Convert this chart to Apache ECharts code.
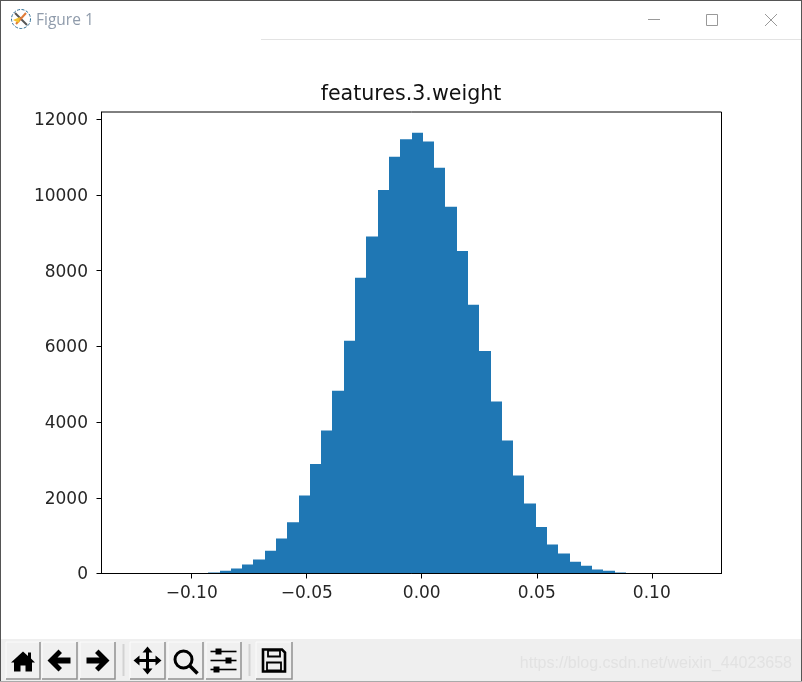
<!DOCTYPE html>
<html><head><meta charset="utf-8">
<style>html,body{margin:0;padding:0;background:#fff}#c{width:802px;height:682px}</style>
<script src="https://cdn.jsdelivr.net/npm/echarts@6/dist/echarts.min.js"></script>
</head><body><div id="c"></div>
<script>
const chartTitle = 'features.3.weight';
const windowTitle = 'Figure 1';
const watermark = 'https://blog.csdn.net/weixin_44023658';
const firstBinEdge = -0.12717;
const binWidth = 0.004909;
const counts = [0,0,0,0,0,0,0,26,70,132,237,369,598,923,1354,2058,2890,3780,4830,6150,7810,8900,10130,11010,11470,11640,11410,10720,9690,8520,7100,5880,4540,3510,2590,1847,1231,765,528,308,202,106,70,26,0,0,0,0,0,0];
const xTicks = [-0.10,-0.05,0,0.05,0.10];
const yTicks = [0,2000,4000,6000,8000,10000,12000];
const xRange = [-0.1392,0.1303];
const yRange = [0,12190];

const bins = counts.map((c,i)=>[firstBinEdge+i*binWidth, firstBinEdge+(i+1)*binWidth, c]);
const chart = echarts.init(document.getElementById('c'),null,{renderer:'canvas'});

const P = {
 home:[[0,-9],[5,-4.5],[5,-8],[8,-8],[8,-2],[12,2],[9,2],[9,11],[2.5,11],[2.5,5],[-2.5,5],[-2.5,11],[-9,11],[-9,2],[-12,2]],
 back:[[-12,0],[-1,-11],[2.5,-7.5],[-2,-3],[11,-3],[11,3],[-2,3],[2.5,7.5],[-1,11]],
 fwd:[[12,0],[1,-11],[-2.5,-7.5],[2,-3],[-11,-3],[-11,3],[2,3],[-2.5,7.5],[1,11]],
 move:[[0,-14],[5,-8],[1.5,-8],[1.5,-1.5],[8,-1.5],[8,-5],[14,0],[8,5],[8,1.5],[1.5,1.5],[1.5,8],[5,8],[0,14],[-5,8],[-1.5,8],[-1.5,1.5],[-8,1.5],[-8,5],[-14,0],[-8,-5],[-8,-1.5],[-1.5,-1.5],[-1.5,-8],[-5,-8]]
};
const btns = [[6,34,'home'],[42,35,'back'],[80,35,'fwd'],[130,35,'move'],[168,35,'zoom'],[206,35,'sliders'],[256,36,'save']];
const g = [];
// window frame and title bar
g.push({type:'rect',shape:{x:0,y:0,width:802,height:1},style:{fill:'#555'},silent:true});
g.push({type:'rect',shape:{x:0,y:0,width:1,height:682},style:{fill:'#555'},silent:true});
g.push({type:'rect',shape:{x:801,y:0,width:1,height:682},style:{fill:'#555'},silent:true});
g.push({type:'rect',shape:{x:261,y:39,width:540,height:1},style:{fill:'#e3e3e3'},silent:true});
g.push({type:'text',style:{x:36,y:21,text:windowTitle,font:'15.5px "Open Sans"',fill:'#8f9bab',textVerticalAlign:'middle'},silent:true});
g.push({type:'circle',shape:{cx:21,cy:19,r:9.5},style:{fill:'#fff',stroke:'#2f6f96',lineWidth:1,lineDash:[3,1.5]},silent:true});
g.push({type:'line',shape:{x1:15,y1:13,x2:27,y2:25},style:{stroke:'#555',lineWidth:2},silent:true});
g.push({type:'line',shape:{x1:26,y1:13,x2:16,y2:24},style:{stroke:'#e07b39',lineWidth:2},silent:true});
g.push({type:'polygon',shape:{points:[[13,20],[20,17],[19,23]]},style:{fill:'#f2c230'},silent:true});
// window controls
g.push({type:'line',shape:{x1:648,y1:19.5,x2:660,y2:19.5},style:{stroke:'#999',lineWidth:1},silent:true});
g.push({type:'rect',shape:{x:706.5,y:14.5,width:11,height:11},style:{fill:'none',stroke:'#999',lineWidth:1},silent:true});
g.push({type:'line',shape:{x1:765,y1:14,x2:777,y2:26},style:{stroke:'#999',lineWidth:1},silent:true});
g.push({type:'line',shape:{x1:777,y1:14,x2:765,y2:26},style:{stroke:'#999',lineWidth:1},silent:true});
// toolbar
g.push({type:'rect',shape:{x:1,y:639,width:800,height:42},style:{fill:'#efefef'},silent:true});
g.push({type:'rect',shape:{x:0,y:681,width:802,height:1},style:{fill:'#aaa'},silent:true});
[123,249].forEach(x=>g.push({type:'rect',shape:{x:x-0.5,y:644,width:2,height:32},style:{fill:'#d2d2d2'},silent:true}));
btns.forEach(([x,w,kind])=>{
  const y=642,h=37,cx=x+w/2,cy=y+h/2;
  g.push({type:'rect',shape:{x:x,y:y,width:w,height:h},style:{fill:'#f0f0f0',stroke:'#fbfbfb',lineWidth:1},silent:true});
  g.push({type:'polyline',shape:{points:[[x+w,y],[x+w,y+h],[x,y+h]]},style:{stroke:'#8e8e8e',lineWidth:1.5,fill:'none'},silent:true});
  if(P[kind]) g.push({type:'polygon',shape:{points:P[kind].map(([a,b])=>[cx+a,cy+b])},style:{fill:'#000'},silent:true});
  if(kind==='zoom'){
    g.push({type:'circle',shape:{cx:cx-2,cy:cy-1,r:8.5},style:{fill:'none',stroke:'#000',lineWidth:3},silent:true});
    g.push({type:'line',shape:{x1:cx+4,y1:cy+5,x2:cx+12,y2:cy+13},style:{stroke:'#000',lineWidth:3.5},silent:true});
  }
  if(kind==='sliders'){
    [[-9,-5],[0,5],[9,-7]].forEach(([dy,dx])=>{
      g.push({type:'line',shape:{x1:cx-13,y1:cy+dy,x2:cx+13,y2:cy+dy},style:{stroke:'#000',lineWidth:1.6},silent:true});
      g.push({type:'rect',shape:{x:cx+dx-3,y:cy+dy-3,width:6,height:6},style:{fill:'#000'},silent:true});
    });
  }
  if(kind==='save'){
    g.push({type:'polygon',shape:{points:[[cx-11,cy-11],[cx+8,cy-11],[cx+11,cy-8],[cx+11,cy+11],[cx-11,cy+11]]},style:{fill:'none',stroke:'#000',lineWidth:2.6},silent:true});
    g.push({type:'rect',shape:{x:cx-6,y:cy-10,width:12,height:6},style:{fill:'none',stroke:'#000',lineWidth:1.8},silent:true});
    g.push({type:'rect',shape:{x:cx-7,y:cy+2,width:14,height:8},style:{fill:'none',stroke:'#000',lineWidth:1.8},silent:true});
  }
});
g.push({type:'text',style:{x:792,y:664,text:watermark,font:'16px "Liberation Sans"',fill:'#e2e2e2',textAlign:'right',textVerticalAlign:'middle'},silent:true});

chart.setOption({
  animation:false,
  backgroundColor:'#fff',
  title:{text:chartTitle,left:411,top:84.5,textAlign:'center',padding:0,textStyle:{fontFamily:'DejaVu Sans',fontSize:20.6,fontWeight:'normal',color:'#111'}},
  grid:{left:101.5,top:112,width:620,height:461.5,show:true,borderColor:'#000',borderWidth:1,backgroundColor:'#fff'},
  xAxis:{type:'value',min:xRange[0],max:xRange[1],splitLine:{show:false},z:5,
    axisLine:{onZero:false,lineStyle:{color:'#000'}},
    axisTick:{length:5,customValues:xTicks,lineStyle:{color:'#000'}},
    axisLabel:{customValues:xTicks,margin:12,fontFamily:'DejaVu Sans',fontSize:17,color:'#262626',
      formatter:v=>(v<0?'\u2212':'')+Math.abs(v).toFixed(2)}},
  yAxis:{type:'value',min:yRange[0],max:yRange[1],splitLine:{show:false},z:5,
    axisLine:{onZero:false,lineStyle:{color:'#000'}},
    axisTick:{length:5,customValues:yTicks,lineStyle:{color:'#000'}},
    axisLabel:{customValues:yTicks,margin:13.5,fontFamily:'DejaVu Sans',fontSize:17,color:'#262626',
      formatter:v=>'{v|'+v+'}',
      rich:{v:{fontFamily:'DejaVu Sans',fontSize:17,color:'#262626',padding:[3,0,0,0]}}}},
  series:[{type:'custom',data:bins,encode:{x:[0,1],y:2},clip:true,z:2,
    renderItem:(p,api)=>{
      if(!api.value(2)) return null;
      const a=api.coord([api.value(0),api.value(2)]),b=api.coord([api.value(1),0]);
      const x0=Math.round(a[0]),x1=Math.round(b[0]);
      return {type:'rect',shape:{x:x0,y:a[1],width:x1-x0,height:b[1]-a[1]},style:{fill:'#1f77b4'}};
    }}],
  graphic:g
});
</script></body></html>
